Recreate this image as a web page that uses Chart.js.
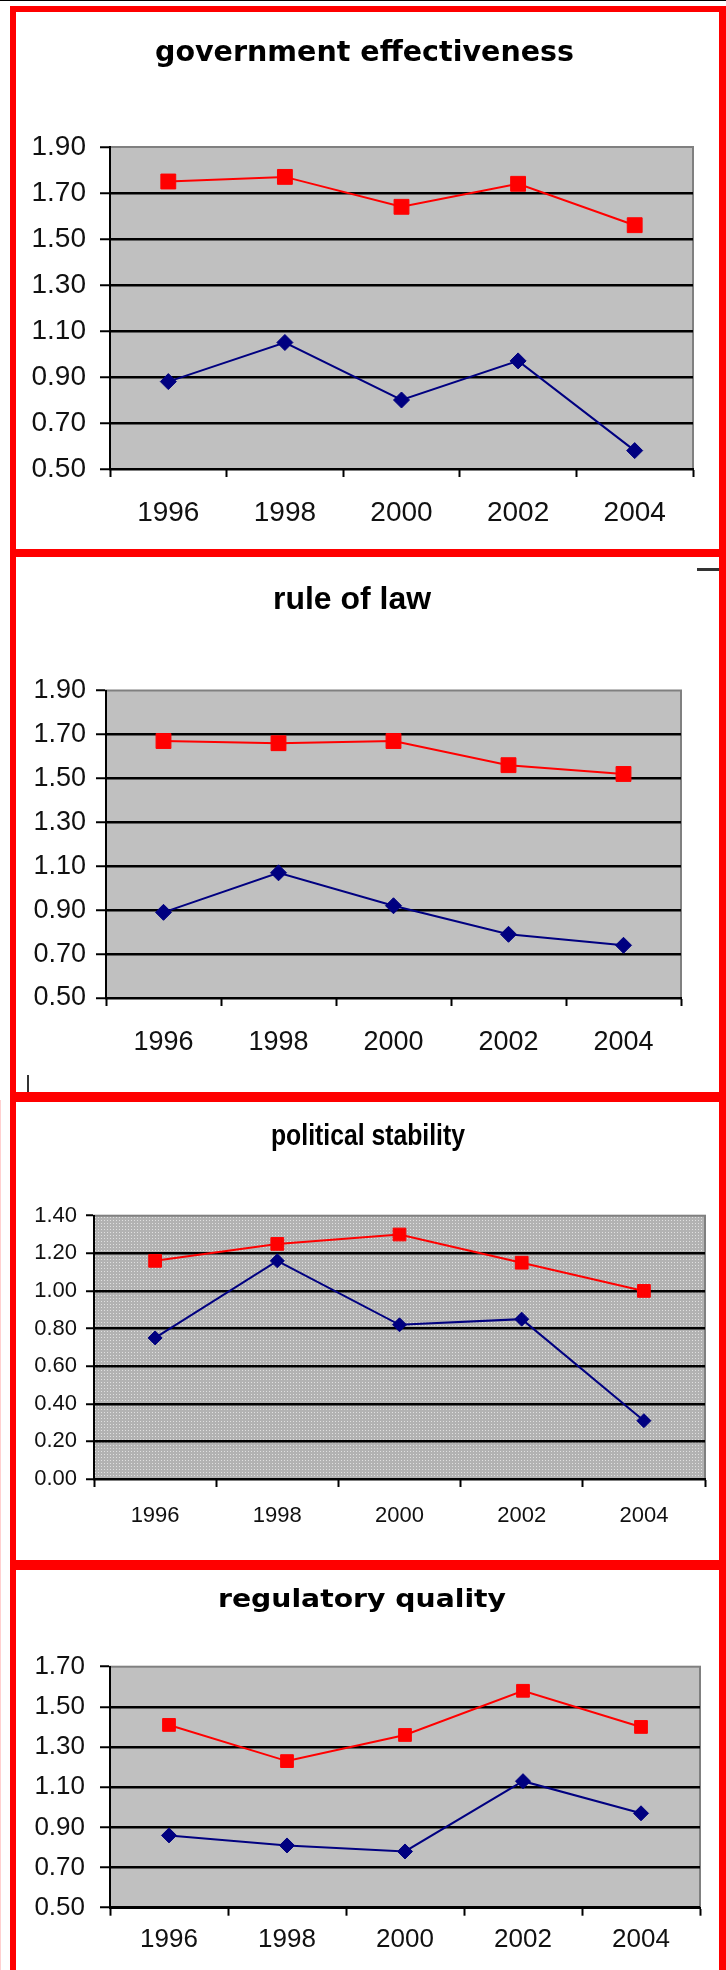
<!DOCTYPE html>
<html>
<head>
<meta charset="utf-8">
<script src="https://cdn.jsdelivr.net/npm/chart.js@4.4.1/dist/chart.umd.min.js"></script>
<style>
  body { margin: 0; background: #fff; width: 726px; height: 1970px; position: relative; overflow: hidden; }
  .bar { position: absolute; background: #ff0000; }
  .mark { position: absolute; background: #333; }
  canvas { position: absolute; left: 16px; }
</style>
</head>
<body>
<div class="mark" style="left:0;top:0;width:726px;height:1px;background:#000"></div>
<div class="mark" style="left:0;top:1100px;width:1px;height:870px;background:#ffd0d0"></div>
<div class="bar" style="left:10px;top:6px;width:6px;height:1964px"></div>
<div class="bar" style="left:719px;top:6px;width:7px;height:1964px"></div>
<div class="bar" style="left:10px;top:6px;width:716px;height:6px"></div>
<div class="bar" style="left:10px;top:549px;width:716px;height:8px"></div>
<div class="bar" style="left:10px;top:1092px;width:716px;height:10px"></div>
<div class="bar" style="left:10px;top:1560px;width:716px;height:10px"></div>

<canvas id="govChart" width="703" height="537" style="top:12px"></canvas>
<canvas id="lawChart" width="703" height="535" style="top:557px"></canvas>
<canvas id="polChart" width="703" height="458" style="top:1102px"></canvas>
<canvas id="regChart" width="703" height="400" style="top:1570px"></canvas>

<div class="mark" style="left:697px;top:568px;width:22px;height:3px"></div>
<div class="mark" style="left:27px;top:1075px;width:2px;height:17px"></div>

<script>
const years = ['1996', '1998', '2000', '2002', '2004'];

const govRed = [1.75, 1.77, 1.64, 1.74, 1.56];
const govBlue = [0.88, 1.05, 0.80, 0.97, 0.58];
const govTicks = [0.50, 0.70, 0.90, 1.10, 1.30, 1.50, 1.70, 1.90];

const lawRed = [1.67, 1.66, 1.67, 1.56, 1.52];
const lawBlue = [0.89, 1.07, 0.92, 0.79, 0.74];
const lawTicks = [0.50, 0.70, 0.90, 1.10, 1.30, 1.50, 1.70, 1.90];

const polRed = [1.16, 1.25, 1.30, 1.15, 1.00];
const polBlue = [0.75, 1.16, 0.82, 0.85, 0.31];
const polTicks = [0.00, 0.20, 0.40, 0.60, 0.80, 1.00, 1.20, 1.40];

const regRed = [1.41, 1.23, 1.36, 1.58, 1.40];
const regBlue = [0.86, 0.81, 0.78, 1.13, 0.97];
const regTicks = [0.50, 0.70, 0.90, 1.10, 1.30, 1.50, 1.70];

function dotPattern(ctx) {
  const t = document.createElement('canvas');
  t.width = 3; t.height = 3;
  const g = t.getContext('2d');
  g.fillStyle = '#b2b2b2'; g.fillRect(0, 0, 3, 3);
  g.fillStyle = '#e0e0e0'; g.fillRect(1, 1, 1, 1);
  return ctx.createPattern(t, 'repeat');
}

// plot background, grey frame and the stretched title
const panelDeco = {
  id: 'panelDeco',
  beforeDraw(chart, args, o) {
    const { ctx, chartArea: a } = chart;
    ctx.save();
    ctx.fillStyle = o.dotted ? dotPattern(ctx) : '#c0c0c0';
    ctx.fillRect(a.left, a.top, a.right - a.left, a.bottom - a.top);
    ctx.strokeStyle = '#808080';
    ctx.lineWidth = 2;
    ctx.strokeRect(a.left, a.top, a.right - a.left, a.bottom - a.top);
    ctx.restore();
  },
  afterDraw(chart, args, o) {
    const ctx = chart.ctx;
    ctx.save();
    ctx.font = 'bold ' + o.size + 'px ' + o.family;
    ctx.fillStyle = '#000';
    ctx.textBaseline = 'alphabetic';
    ctx.textAlign = 'left';
    const w = ctx.measureText(o.text).width;
    ctx.translate(o.left, o.baseline);
    ctx.scale(o.width / w, 1);
    ctx.fillText(o.text, 0, 0);
    ctx.restore();
  }
};

function makePanel(id, c) {
  const min = c.ticks[0], max = c.ticks[c.ticks.length - 1];
  const tickFont = { family: 'Liberation Sans, Arial, sans-serif', size: c.fs };
  return new Chart(document.getElementById(id), {
    type: 'line',
    data: {
      labels: years,
      datasets: [
        {
          label: 'red', data: c.red, borderColor: '#ff0000', backgroundColor: '#ff0000',
          borderWidth: 2, tension: 0, pointStyle: 'rect', pointRadius: c.sq,
          pointBorderColor: '#ff0000', pointBorderWidth: 1
        },
        {
          label: 'blue', data: c.blue, borderColor: '#000080', backgroundColor: '#000080',
          borderWidth: 2, tension: 0, pointStyle: 'rectRot', pointRadius: c.dm,
          pointBorderColor: '#000080', pointBorderWidth: 1
        }
      ]
    },
    options: {
      responsive: false,
      animation: false,
      devicePixelRatio: 1,
      layout: { padding: { top: c.padTop, right: c.padRight, left: 0, bottom: 0 } },
      plugins: {
        legend: { display: false },
        tooltip: { enabled: false },
        panelDeco: c.title
      },
      scales: {
        x: {
          offset: true,
          grid: { offset: true, drawOnChartArea: false, tickLength: 8, tickColor: '#000', tickWidth: 2 },
          border: { color: '#000', width: 2 },
          ticks: { color: '#111', font: tickFont, padding: c.xPad, maxRotation: 0, autoSkip: false },
          afterFit: s => { s.height = c.xH; }
        },
        y: {
          min: min, max: max,
          grid: {
            color: g => (g.tick && g.tick.value >= max - 1e-9) ? 'rgba(0,0,0,0)' : '#000',
            lineWidth: 2.5, tickColor: '#000', tickWidth: 2, tickLength: c.yTick
          },
          border: { color: '#000', width: 2 },
          ticks: { color: '#111', font: tickFont, padding: c.yPad, callback: v => Number(v).toFixed(2) },
          afterBuildTicks: s => { s.ticks = c.ticks.map(v => ({ value: v })); },
          afterFit: s => { s.width = c.yW; }
        }
      }
    },
    plugins: [panelDeco]
  });
}

makePanel('govChart', {
  red: govRed, blue: govBlue, ticks: govTicks,
  padTop: 135, padRight: 26, yW: 94, xH: 80, fs: 28, yPad: 14, yTick: 10, xPad: 19, sq: 10.5, dm: 8,
  title: { text: 'government effectiveness', family: 'DejaVu Sans', size: 28, left: 139, width: 419, baseline: 49 }
});

makePanel('lawChart', {
  red: lawRed, blue: lawBlue, ticks: lawTicks,
  padTop: 133.5, padRight: 38, yW: 90, xH: 94, fs: 27, yPad: 10, yTick: 10, xPad: 20, sq: 10.5, dm: 8,
  title: { text: 'rule of law', family: 'Liberation Sans', size: 31, left: 257, width: 158, baseline: 52 }
});

makePanel('polChart', {
  red: polRed, blue: polBlue, ticks: polTicks,
  padTop: 113.7, padRight: 14, yW: 78, xH: 81, fs: 22, yPad: 9, yTick: 8, xPad: 16, sq: 9, dm: 7,
  title: { text: 'political stability', family: 'Liberation Sans', size: 30, left: 255, width: 194, baseline: 43, dotted: true }
});

makePanel('regChart', {
  red: regRed, blue: regBlue, ticks: regTicks,
  padTop: 96.7, padRight: 19, yW: 94, xH: 62.3, fs: 26, yPad: 15, yTick: 10, xPad: 9, sq: 9, dm: 7.5,
  title: { text: 'regulatory quality', family: 'DejaVu Sans', size: 24, left: 202, width: 288, baseline: 37 }
});
</script>
</body>
</html>
